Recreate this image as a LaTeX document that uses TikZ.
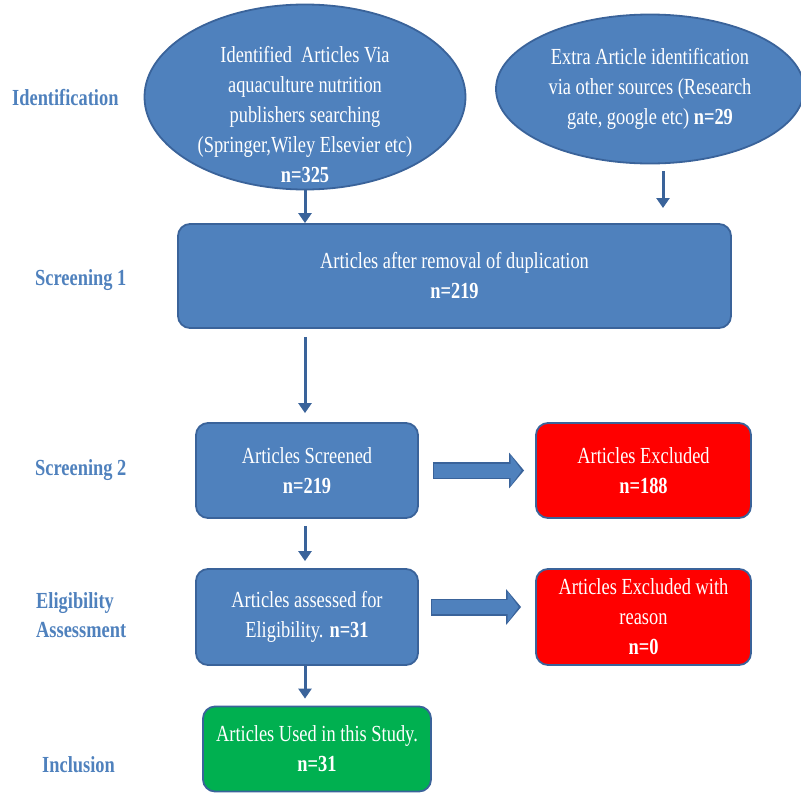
\documentclass[tikz,border=0pt]{standalone}
\usepackage{fontspec}
\setmainfont[FakeStretch=0.8]{Liberation Serif}
\usetikzlibrary{arrows.meta,shapes.geometric}
\definecolor{boxBlue}{HTML}{4F81BD}
\definecolor{lineBlue}{HTML}{3A639A}
\definecolor{boxRed}{HTML}{FF0000}
\definecolor{boxGreen}{HTML}{00B050}

\begin{document}
\begin{tikzpicture}[x=1pt,y=-1pt]
	\tikzset{box/.style = {draw=lineBlue, line width=1.8pt, rounded corners=12pt, fill=boxBlue, text=white, align=center, inner sep=0pt, font=\fontsize{23}{30}\selectfont}}
	\tikzset{oval/.style = {ellipse, draw=lineBlue, line width=1.8pt, fill=boxBlue, text=white, align=center, inner sep=0pt, font=\fontsize{23}{30}\selectfont}}
	\tikzset{stage/.style = {anchor=west, inner sep=0pt, text=boxBlue, align=left, font=\fontsize{23}{29.5}\selectfont\bfseries}}
	\tikzset{pfeil/.style = {draw=lineBlue, line width=3pt, -{Triangle[length=10pt, width=13pt]}}}
	\tikzset{blockrand/.style = {draw=lineBlue, line width=17pt, -{Triangle[length=15pt, width=35pt]}}}
	\tikzset{blockpfeil/.style = {draw=boxBlue, line width=14pt, -{Triangle[length=11pt, width=30pt]}}}
	\useasboundingbox (0,0) rectangle (801,793);
	
	% Knoten
	\node[oval, minimum width=321pt, minimum height=185pt] (ident) at (305,97) {};
	\node[text=white, align=center, inner sep=0pt, font=\fontsize{23}{30}\selectfont] (identText) at (305,115)
		{Identified\ \ Articles Via\\aquaculture nutrition\\publishers searching\\(Springer,Wiley Elsevier etc)\\\textbf{n=325}};
	\node[oval, minimum width=308pt, minimum height=149pt] (extra) at (650,89)
		{Extra Article identification\\via other sources (Research\\gate, google etc) \textbf{n=29}};
	\node[box, minimum width=553pt, minimum height=104pt] (screen1) at (454.5,276)
		{Articles after removal of duplication\\\textbf{n=219}};
	\node[box, minimum width=222pt, minimum height=95pt] (screened) at (307,470.5)
		{Articles Screened\\\textbf{n=219}};
	\node[box, fill=boxRed, minimum width=215pt, minimum height=95pt] (excluded) at (643.5,470.5)
		{Articles Excluded\\\textbf{n=188}};
	\node[box, minimum width=222pt, minimum height=96pt] (assessed) at (307,617)
		{Articles assessed for\\Eligibility. \textbf{n=31}};
	\node[box, fill=boxRed, minimum width=215pt, minimum height=96pt] (reason) at (643.5,617)
		{Articles Excluded with\\reason\\\textbf{n=0}};
	\node[box, fill=boxGreen, minimum width=228pt, minimum height=85pt] (included) at (317,749)
		{Articles Used in this Study.\\\textbf{n=31}};
	
	% Phasen
	\node[stage] (phase1) at (12,98) {Identification};
	\node[stage] (phase2) at (35,280) {Screening 1};
	\node[stage] (phase3) at (35,470) {Screening 2};
	\node[stage] (phase4) at (36,615) {Eligibility\\Assessment};
	\node[stage] (phase5) at (42,765) {Inclusion};
	
	% Kanten
	\coordinate (extraEnd) at (663,208);
	\draw[pfeil] (ident) -- (ident |- screen1.north);
	\draw[pfeil] ([xshift=13pt, yshift=-7pt]extra.south) -- (extraEnd);
	\draw[pfeil, shorten <=8pt, shorten >=9pt] ([xshift=-2pt]screened.north |- screen1.south) -- ([xshift=-2pt]screened.north);
	\draw[pfeil, shorten <=7pt, shorten >=7pt] ([xshift=-2pt]screened.south) -- ([xshift=-2pt]assessed.north);
	\draw[pfeil, shorten >=7pt] ([xshift=-2pt]assessed.south) -- ([xshift=-2pt]assessed.south |- included.north);
	\draw[blockrand, shorten <=14pt, shorten >=11pt] (screened) -- (excluded);
	\draw[blockpfeil, shorten <=15.5pt, shorten >=13.5pt] (screened) -- (excluded);
	\draw[blockrand, shorten <=12pt, shorten >=14pt] ([yshift=10pt]assessed.east) -- ([yshift=10pt]reason.west);
	\draw[blockpfeil, shorten <=13.5pt, shorten >=16.5pt] ([yshift=10pt]assessed.east) -- ([yshift=10pt]reason.west);
	
\end{tikzpicture}
\end{document}
